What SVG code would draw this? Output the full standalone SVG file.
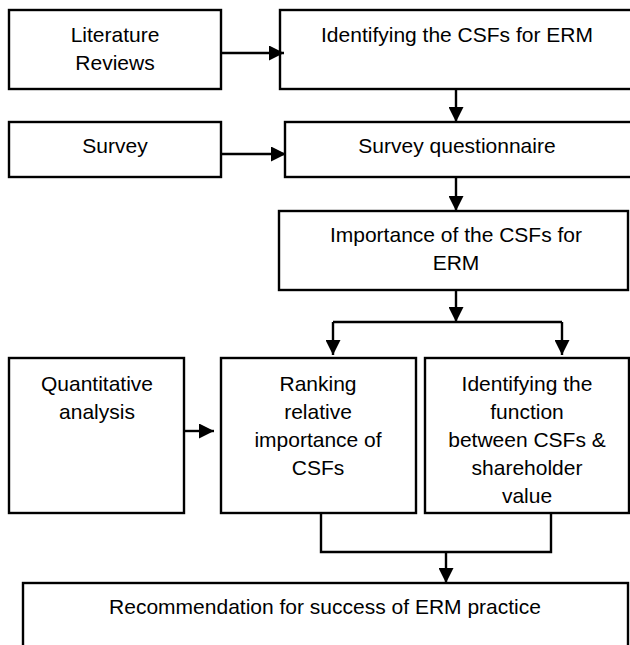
<svg xmlns="http://www.w3.org/2000/svg" width="630" height="645" viewBox="0 0 630 645">
<style>
rect.box{fill:#fff;stroke:#000;stroke-width:2.4}
text{font-family:"Liberation Sans",Arial,sans-serif;font-size:21px;fill:#000;text-anchor:middle}
.c{fill:none;stroke:#000;stroke-width:2.4}
</style>
<defs>
<marker id="ah" viewBox="0 0 10 10" refX="10" refY="5" markerWidth="15" markerHeight="15" markerUnits="userSpaceOnUse" orient="auto">
<path d="M0,0 L10,5 L0,10 Z" fill="#000"/>
</marker>
</defs>
<rect width="630" height="645" fill="#fff"/>
<g id="literature"><rect class="box" x="9" y="10" width="212" height="79"/><text x="115" y="42">Literature</text><text x="115" y="70">Reviews</text></g>
<g id="identifying"><rect class="box" x="280" y="10" width="360" height="79"/><text x="457" y="42">Identifying the CSFs for ERM</text></g>
<g id="survey"><rect class="box" x="9" y="122" width="212" height="55"/><text x="115" y="153">Survey</text></g>
<g id="questionnaire"><rect class="box" x="285" y="122" width="355" height="55"/><text x="457" y="153">Survey questionnaire</text></g>
<g id="importance"><rect class="box" x="279" y="211" width="349" height="79"/><text x="456" y="242">Importance of the CSFs for</text><text x="456" y="270">ERM</text></g>
<g id="quantitative"><rect class="box" x="9" y="358" width="175" height="155"/><text x="97" y="391">Quantitative</text><text x="97" y="419">analysis</text></g>
<g id="ranking"><rect class="box" x="221" y="358" width="195" height="155"/><text x="318" y="391">Ranking</text><text x="318" y="419">relative</text><text x="318" y="447">importance of</text><text x="318" y="475">CSFs</text></g>
<g id="function"><rect class="box" x="425" y="358" width="204" height="155"/><text x="527" y="391">Identifying the</text><text x="527" y="419">function</text><text x="527" y="447">between CSFs &amp;</text><text x="527" y="475">shareholder</text><text x="527" y="503">value</text></g>
<g id="recommendation"><rect class="box" x="23" y="583" width="605" height="80"/><text x="325" y="614">Recommendation for success of ERM practice</text></g>
<g id="connectors">
<line class="c" x1="221" y1="53" x2="284" y2="53" marker-end="url(#ah)"/>
<line class="c" x1="456" y1="89" x2="456" y2="122" marker-end="url(#ah)"/>
<line class="c" x1="221" y1="154" x2="286" y2="154" marker-end="url(#ah)"/>
<line class="c" x1="456" y1="177" x2="456" y2="211" marker-end="url(#ah)"/>
<line class="c" x1="456" y1="290" x2="456" y2="322" marker-end="url(#ah)"/>
<polyline class="c" points="333,322 562,322"/>
<line class="c" x1="333" y1="322" x2="333" y2="355" marker-end="url(#ah)"/>
<line class="c" x1="562" y1="322" x2="562" y2="355" marker-end="url(#ah)"/>
<line class="c" x1="184" y1="431" x2="214" y2="431" marker-end="url(#ah)"/>
<polyline class="c" points="321,513 321,552 551,552 551,513"/>
<line class="c" x1="446" y1="552" x2="446" y2="583" marker-end="url(#ah)"/>
</g>
</svg>
